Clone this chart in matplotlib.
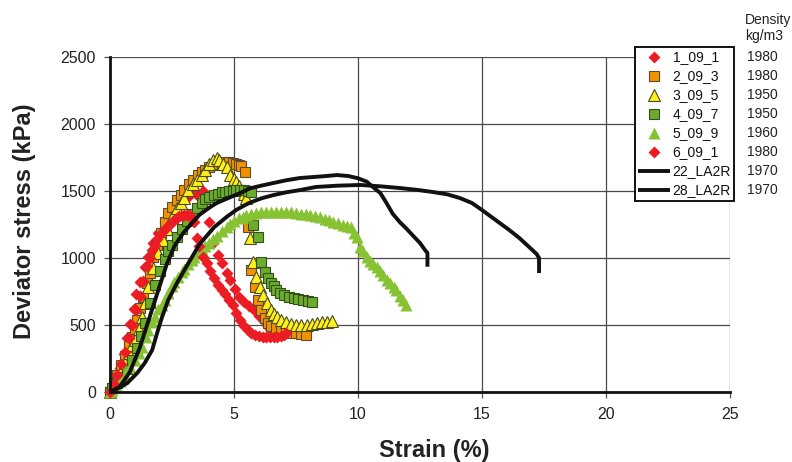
#!/usr/bin/env python3
"""
Triaxial test curves: deviator stress vs axial strain for the 09 series
and the two LA2R reference tests.
"""

import matplotlib
matplotlib.use('Agg')
import matplotlib.pyplot as plt

plt.rcParams['font.family'] = ['Liberation Sans', 'DejaVu Sans']

# strain (%) / deviator stress (kPa)
strain_1_09_1 = [0, 0.2, 0.4, 0.55, 0.7, 0.8, 0.95, 1.05, 1.2, 1.4, 1.55, 1.75, 1.95, 2.2,
                 2.45, 2.7, 2.95, 3.2, 3.45, 3.75, 4.0, 4.15, 4.35, 4.5, 4.7, 4.85,
                 5.05, 5.2, 5.4, 5.6, 5.8, 6.0, 6.2, 6.35, 6.45]
stress_1_09_1 = [0, 90, 180, 280, 400, 510, 620, 730, 820, 930, 1010, 1110, 1190, 1270,
                 1340, 1390, 1430, 1460, 1480, 1500, 1265, 1110, 1020, 962, 890, 836,
                 770, 709, 670, 640, 612, 570, 530, 500, 470]

strain_2_09_3 = [0, 0.15, 0.3, 0.45, 0.6, 0.75, 0.9, 1.0, 1.1, 1.2, 1.35, 1.5, 1.6, 1.75, 1.9,
                 2.05, 2.2, 2.35, 2.5, 2.7, 2.85, 3.0, 3.2, 3.35, 3.55, 3.7, 3.85, 4.0,
                 4.2, 4.35, 4.5, 4.65, 4.8, 4.95, 5.1, 5.2, 5.3, 5.45, 5.55, 5.7, 5.85, 5.97,
                 6.1, 6.25, 6.37, 6.5, 6.7, 6.9, 7.1, 7.3, 7.5, 7.7, 7.9]
stress_2_09_3 = [0, 70, 130, 200, 270, 340, 410, 470, 535, 627, 710, 810, 888, 1010, 1100,
                 1190, 1270, 1335, 1380, 1433, 1470, 1507, 1550, 1582, 1620, 1642, 1660, 1680,
                 1693, 1700, 1708, 1714, 1716, 1710, 1700, 1695, 1690, 1642, 1231, 910, 784, 686,
                 612, 552, 515, 495, 478, 460, 448, 443, 440, 432, 425]

strain_3_09_5 = [0, 0.15, 0.3, 0.45, 0.6, 0.75, 0.9, 1.0, 1.15, 1.3, 1.4, 1.55, 1.75, 1.95,
                 2.15, 2.3, 2.5, 2.7, 2.85, 3.0, 3.15, 3.35, 3.5, 3.7, 3.85, 4.0,
                 4.15, 4.3, 4.4, 4.55, 4.7, 4.85, 5.0, 5.1, 5.2, 5.3, 5.4, 5.5,
                 5.65, 5.77, 5.9, 6.05, 6.17, 6.33, 6.5, 6.62, 6.75, 6.9, 7.1, 7.3,
                 7.5, 7.7, 7.95, 8.15, 8.35, 8.55, 8.75, 8.95]
stress_3_09_5 = [0, 50, 105, 160, 220, 290, 350, 388, 470, 560, 664, 784, 925, 1040,
                 1134, 1220, 1306, 1370, 1410, 1450, 1507, 1550, 1582, 1620, 1660, 1700,
                 1730, 1746, 1730, 1705, 1680, 1619, 1590, 1567, 1540, 1507, 1478, 1448,
                 1149, 970, 858, 784, 724, 664, 612, 585, 560, 540, 522, 510,
                 500, 498, 500, 506, 515, 520, 525, 530]

strain_4_09_7 = [0, 0.1, 0.3, 0.5, 0.7, 0.9, 1.1, 1.25, 1.4, 1.6, 1.8, 2.0,
                 2.2, 2.35, 2.5, 2.7, 2.9, 3.1, 3.3, 3.5, 3.7, 3.85, 4.0, 4.2,
                 4.35, 4.5, 4.65, 4.8, 4.95, 5.1, 5.25, 5.4, 5.55, 5.7, 5.77, 5.97,
                 6.1, 6.25, 6.37, 6.5, 6.6, 6.7, 6.85, 7.0, 7.2, 7.4, 7.6, 7.8, 8.0, 8.15]
stress_4_09_7 = [0, 30, 70, 112, 175, 239, 330, 420, 515, 664, 800, 900,
                 990, 1050, 1100, 1160, 1220, 1275, 1330, 1375, 1410, 1440, 1455, 1470,
                 1480, 1490, 1496, 1500, 1503, 1505, 1506, 1505, 1500, 1495, 1246, 1157,
                 970, 895, 850, 813, 790, 761, 740, 724, 710, 701, 695, 687, 680, 672]

strain_5_09_9 = [0, 0.1, 0.25, 0.4, 0.6, 0.8, 1.0, 1.15, 1.3, 1.45, 1.55, 1.7, 1.8, 1.95,
                 2.1, 2.2, 2.35, 2.5, 2.6, 2.75, 2.9, 3.0, 3.15, 3.3, 3.4, 3.55, 3.7, 3.85,
                 4.0, 4.15, 4.3, 4.5, 4.7, 4.85, 5.0, 5.2, 5.35, 5.5, 5.7, 5.9, 6.1, 6.3,
                 6.5, 6.7, 6.9, 7.1, 7.3, 7.5, 7.7, 7.9, 8.05, 8.25, 8.45, 8.65, 8.85, 9.0,
                 9.2, 9.4, 9.55, 9.7, 9.85, 9.95, 10.1, 10.2, 10.35, 10.5, 10.6, 10.75, 10.9,
                 11.0, 11.15, 11.3, 11.45, 11.55, 11.7, 11.8, 11.95]
stress_5_09_9 = [0, 15, 50, 85, 130, 185, 239, 290, 336, 410, 463, 520, 560, 620,
                 650, 690, 740, 790, 820, 860, 895, 920, 955, 985, 1007, 1040, 1070, 1090,
                 1112, 1140, 1165, 1200, 1231, 1255, 1275, 1295, 1306, 1318, 1330, 1338, 1343, 1345,
                 1346, 1347, 1346, 1343, 1340, 1335, 1330, 1325, 1321, 1312, 1303, 1293, 1282, 1269,
                 1258, 1245, 1238, 1231, 1190, 1157, 1082, 1050, 1007, 980, 955, 933, 900,
                 870, 836, 810, 785, 761, 720, 687, 650]

strain_6_09_1 = [0, 0.15, 0.3, 0.45, 0.6, 0.75, 0.9, 1.05, 1.2, 1.35, 1.5, 1.6, 1.7, 1.8,
                 1.9, 2.0, 2.1, 2.2, 2.3, 2.4, 2.5, 2.6, 2.7, 2.8, 2.9, 3.0, 3.1, 3.2,
                 3.3, 3.4, 3.5, 3.6, 3.75, 3.9, 4.05, 4.2, 4.35, 4.5, 4.65, 4.8, 4.95, 5.1,
                 5.25, 5.4, 5.55, 5.7, 5.85, 6.0, 6.15, 6.3, 6.45, 6.6, 6.75, 6.9, 7.0, 7.1]
stress_6_09_1 = [0, 60, 130, 210, 300, 400, 500, 610, 720, 830, 940, 1000, 1060, 1100,
                 1140, 1170, 1195, 1215, 1235, 1255, 1270, 1285, 1300, 1310, 1316, 1320, 1322, 1318,
                 1300, 1270, 1150, 1090, 1010, 960, 900, 850, 800, 760, 730, 690, 650, 590,
                 540, 490, 460, 440, 425, 415, 410, 408, 408, 408, 410, 415, 425, 440]

strain_22_la2r = [0, 0.4, 0.8, 1.2, 1.6, 2.0, 2.3, 2.6, 2.95, 3.3, 3.6, 4.0,
                  4.3, 4.8, 5.25, 5.65, 6.1, 6.6, 7.1, 7.66, 8.1, 8.6, 9.15, 9.6,
                  10.0, 10.35, 10.6, 10.9, 11.15, 11.4, 11.7, 11.95, 12.2, 12.5, 12.7, 12.8, 12.8]
stress_22_la2r = [0, 40, 150, 330, 560, 790, 960, 1090, 1186, 1260, 1321, 1375,
                  1410, 1450, 1485, 1520, 1540, 1560, 1580, 1597, 1603, 1610, 1619, 1612,
                  1595, 1570, 1530, 1485, 1410, 1330, 1265, 1220, 1170, 1112, 1060, 1037, 935]

strain_28_la2r = [0, 0.2, 0.7, 1.1, 1.4, 1.7, 1.9, 2.1, 2.35, 2.7, 3.0, 3.6, 4.2, 4.7, 5.1, 5.6,
                  6.1, 6.6, 7.1, 7.66, 8.3, 9.2, 10.1, 10.9, 11.7, 12.4, 13.0, 13.6, 14.1, 14.6,
                  15.0, 15.5, 16.1, 16.5, 16.9, 17.2, 17.3, 17.3]
stress_28_la2r = [0, 15, 67, 142, 216, 313, 440, 560, 687, 813, 910, 1100, 1230, 1306, 1360, 1410,
                  1445, 1470, 1490, 1507, 1530, 1540, 1545, 1535, 1522, 1508, 1493, 1475, 1448, 1410,
                  1358, 1290, 1209, 1150, 1082, 1030, 1000, 888]

labels = ['1_09_1', '2_09_3', '3_09_5', '4_09_7', '5_09_9', '6_09_1', '22_LA2R', '28_LA2R']
densities = ['1980', '1980', '1950', '1950', '1960', '1980', '1970', '1970']

x_ticks = [0, 5, 10, 15, 20, 25]
y_ticks = [0, 500, 1000, 1500, 2000, 2500]

# plotting style per series (same order as labels)
styles = [
    dict(marker='D', ms=6.2, color='#ec1c24', mec='none', ls='none'),
    dict(marker='s', ms=7.0, color='#f39200', mec='#5a4a30', mew=0.8, ls='none'),
    dict(marker='^', ms=8.0, color='#ffef1a', mec='#4a4a20', mew=0.8, ls='none'),
    dict(marker='s', ms=7.0, color='#6cac2c', mec='#33501a', mew=0.8, ls='none'),
    dict(marker='^', ms=8.0, color='#86c232', mec='none', ls='none'),
    dict(marker='D', ms=6.2, color='#ec1c24', mec='none', ls='none'),
    dict(color='#111111', lw=2.8, solid_capstyle='butt'),
    dict(color='#111111', lw=2.8, solid_capstyle='butt'),
]


def make_plot():
    series = [
        (strain_1_09_1, stress_1_09_1),
        (strain_2_09_3, stress_2_09_3),
        (strain_3_09_5, stress_3_09_5),
        (strain_4_09_7, stress_4_09_7),
        (strain_5_09_9, stress_5_09_9),
        (strain_6_09_1, stress_6_09_1),
        (strain_22_la2r, stress_22_la2r),
        (strain_28_la2r, stress_28_la2r),
    ]

    fig = plt.figure(figsize=(7.92, 4.62), dpi=100)
    ax = fig.add_axes([110 / 792, 70 / 462, 620 / 792, 335 / 462])

    handles = []
    for (sx, sy), st, lab in zip(series, styles, labels):
        line, = ax.plot(sx, sy, label=lab, clip_on=False, **st)
        handles.append(line)

    ax.set_xlim(0, 25)
    ax.set_ylim(0, 2500)
    ax.set_xticks(x_ticks)
    ax.set_yticks(y_ticks)
    ax.grid(True, color='#4a4a4a', lw=0.9)
    ax.set_axisbelow(True)

    for side in ['top', 'right']:
        ax.spines[side].set_visible(False)
    for side in ['left', 'bottom']:
        ax.spines[side].set_linewidth(2.0)
        ax.spines[side].set_color('#111111')

    ax.tick_params(axis='both', direction='out', length=4, width=0.9,
                   color='#555555', labelsize=11.5, labelcolor='#222222')
    ax.tick_params(axis='x', pad=7)
    ax.tick_params(axis='y', pad=6)

    ax.set_xlabel('Strain (%)', fontsize=17, fontweight='bold', color='#222222')
    ax.set_ylabel('Deviator stress (kPa)', fontsize=17, fontweight='bold', color='#222222')
    ax.xaxis.set_label_coords((434 - 110) / 620, -0.14)
    ax.yaxis.set_label_coords(-0.12, 0.51)

    leg = fig.legend(handles=handles, loc='upper left',
                     bbox_to_anchor=(635 / 792, 1 - 47 / 462),
                     fontsize=10, numpoints=1, handlelength=2.3, handletextpad=0.15,
                     labelspacing=0.36, borderpad=0.25, borderaxespad=0,
                     fancybox=False, framealpha=1, edgecolor='#111111')
    leg.get_frame().set_linewidth(1.4)
    for t in leg.get_texts():
        t.set_color('#111111')

    # density column next to the legend rows
    fig.canvas.draw()
    inv = fig.transFigure.inverted()
    for t, dens in zip(leg.get_texts(), densities):
        bb = t.get_window_extent()
        _, yc = inv.transform((0, (bb.y0 + bb.y1) / 2))
        fig.text(747 / 792, yc, dens, fontsize=10, va='center', ha='left', color='#222222')
    fig.text(745 / 792, 1 - 20 / 462, 'Density', fontsize=10, va='center', ha='left', color='#222222')
    fig.text(745 / 792, 1 - 36 / 462, 'kg/m3', fontsize=10, va='center', ha='left', color='#222222')

    fig.savefig('out.png', dpi=100)
    plt.close(fig)


if __name__ == '__main__':
    make_plot()
